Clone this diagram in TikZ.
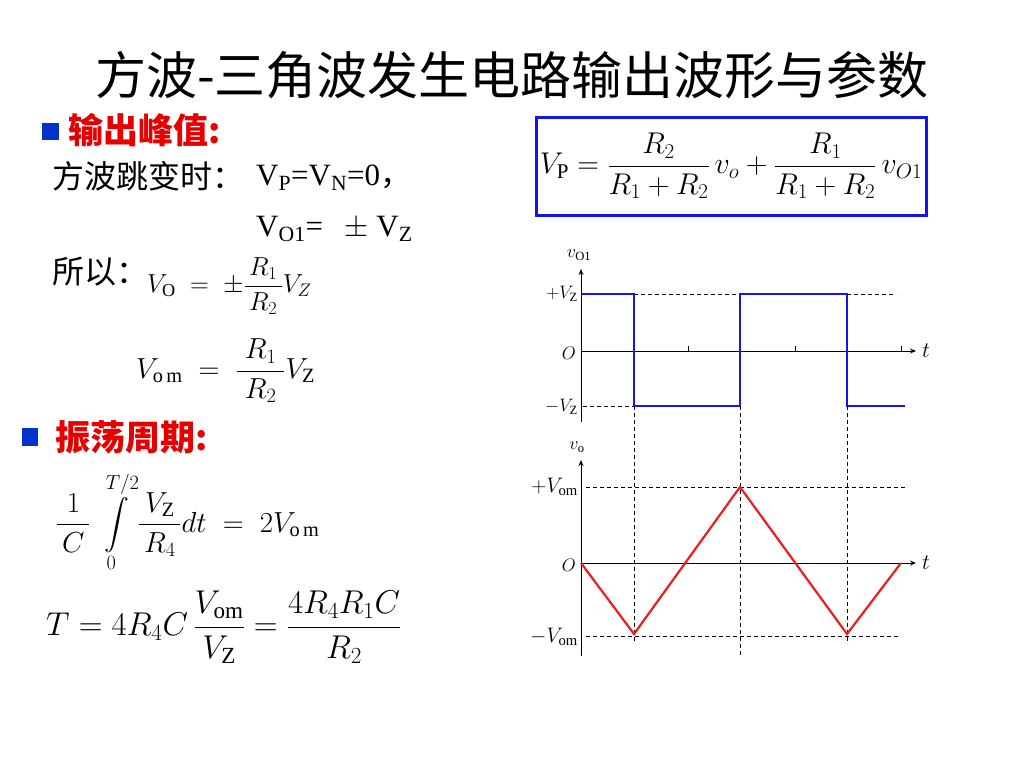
\RequirePackage{fix-cm}
\documentclass[tikz,border=0pt]{standalone}
\usepackage{amsmath}
\usepackage{fontspec}
\setmainfont{Liberation Serif}
\newfontfamily\cjk{Noto Sans CJK SC}
\usetikzlibrary{arrows.meta}
\definecolor{hdred}{RGB}{230,0,0}
\definecolor{bulblue}{RGB}{0,51,204}
\definecolor{sqblue}{RGB}{20,20,240}
\definecolor{trired}{RGB}{235,30,30}
\tikzset{
  txt/.style={inner sep=0pt, anchor=west},
  axis/.style={line width=0.9pt, -{Stealth[length=6pt,width=5pt]}},
  guide/.style={line width=0.8pt, dash pattern=on 4pt off 3pt},
  lbl/.style={inner sep=0pt, font=\fontsize{18}{20}\selectfont},
  biglbl/.style={inner sep=0pt, font=\fontsize{21}{23}\selectfont},
  tlbl/.style={inner sep=0pt, anchor=west, font=\fontsize{22}{24}\selectfont},
  sqw/.style={sqblue, line width=2.8pt},
  triw/.style={trired, line width=2.2pt, line join=miter},
  bullet/.style={fill=bulblue, draw=none},
}
\begin{document}
\begin{tikzpicture}[x=1pt,y=-1pt]
\useasboundingbox[fill=white] (0,0) rectangle (1024,768);

% title
\node[inner sep=0pt, font=\cjk\fontsize{51}{56}\selectfont] (title) at (512,75) {方波-三角波发生电路输出波形与参数};

% section 1
\fill[bullet] (42,123) rectangle (59,140);
\node[txt, text=hdred, font=\cjk\bfseries\fontsize{35}{40}\selectfont] (h1) at (68,130) {输出峰值:};
\node[txt, font=\cjk\fontsize{32}{36}\selectfont] (l1) at (52,176) {方波跳变时：};
\node[txt, font=\fontsize{31}{34}\selectfont] (l1b) at (256,178) {V\textsubscript{P}=V\textsubscript{N}=0{\cjk ，}};
\node[txt, font=\fontsize{31}{34}\selectfont] (l2) at (256,229) {V\textsubscript{O1}=\;\, $\pm$ V\textsubscript{Z}};
\node[txt, font=\cjk\fontsize{32}{36}\selectfont] (l3) at (52,272) {所以：};
\node[txt, font=\fontsize{26}{29}\selectfont] (f1) at (147,286) {$V_{\mathrm{O}}\;=\;\pm\dfrac{\,R_1\,}{\,R_2\,}V_Z$};
\node[txt, font=\fontsize{29}{32}\selectfont] (f2) at (136,371) {$V_{\mathrm{o\,m}}\;=\;\dfrac{\;R_1\;}{\;R_2\;}V_{\mathrm{Z}}$};

% section 2
\fill[bullet] (22,428) rectangle (38,446);
\node[txt, text=hdred, font=\cjk\bfseries\fontsize{35}{40}\selectfont] (h2) at (55,437) {振荡周期:};
\node[txt, font=\fontsize{29}{32}\selectfont] (f3) at (56,522) {$\dfrac{\,1\,}{\,C\,}\,\displaystyle\int\limits_{0}^{T/2}\dfrac{\,V_{\mathrm{Z}}\,}{\,R_4\,}dt \;=\; 2V_{\mathrm{o\,m}}$};
\node[txt, font=\fontsize{33}{37}\selectfont] (f4) at (46,627) {$T = 4R_4C\,\dfrac{V_{\mathrm{om}}}{V_{\mathrm{Z}}} = \dfrac{4R_4R_1C}{R_2}$};

% boxed formula
\draw[sqblue, line width=3pt] (536,117) rectangle (926,215);
\node[inner sep=0pt, font=\fontsize{30}{34}\selectfont] (f5) at (731,166) {$V_{\mathrm{P}} = \dfrac{R_2}{R_1+R_2}\,v_o + \dfrac{R_1}{R_1+R_2}\,v_{O1}$};

% ---------- top graph (square wave) ----------
\coordinate (o1) at (581,351);
\coordinate (y1b) at (581,422);
\coordinate (y1t) at (581,269);
\coordinate (x1e) at (916,351);
\draw[axis] (y1b) -- (y1t);
\draw[axis] (o1) -- (x1e);
\node[lbl] (v1) at (579,255) {$v_{\mathrm{O1}}$};
\node[tlbl] (t1) at (922,351) {$t$};
\node[lbl, anchor=east] (pz) at (578,294) {$+V_{\mathrm{Z}}$};
\node[lbl, anchor=east] (oz) at (576,353) {$O$};
\node[lbl, anchor=east] (mz) at (578,407) {$-V_{\mathrm{Z}}$};
\foreach \x in {688,795,901} \draw[line width=0.8pt] (\x,351) -- (\x,346);
\draw[guide] (634,294) -- (740,294);
\draw[guide] (847,294) -- (896,294);
\draw[guide] (583,406) -- (634,406);
\draw[sqw] (581,294) -- (634,294) -- (634,406) -- (740,406) -- (740,294) -- (847,294) -- (847,406) -- (905,406);

% vertical guides
\draw[guide] (634,406) -- (634,644);
\draw[guide] (740,406) -- (740,655);
\draw[guide] (847,406) -- (847,644);

% ---------- bottom graph (triangle wave) ----------
\coordinate (o2) at (581,563);
\coordinate (y2b) at (581,656);
\coordinate (y2t) at (581,460);
\coordinate (x2e) at (916,563);
\draw[axis] (y2b) -- (y2t);
\draw[axis] (o2) -- (x2e);
\node[lbl] (v2) at (577,447) {$v_{\mathrm{o}}$};
\node[tlbl] (t2) at (922,563) {$t$};
\node[biglbl, anchor=east] (pv) at (578,487) {$+V_{\mathrm{om}}$};
\node[lbl, anchor=east] (ov) at (576,565) {$O$};
\node[biglbl, anchor=east] (mv) at (578,637) {$-V_{\mathrm{om}}$};
\draw[guide] (586,487) -- (906,487);
\draw[guide] (586,636) -- (898,636);
\draw[triw] (581,563) -- (634,634) -- (740,487) -- (847,634) -- (901,563);
\end{tikzpicture}
\end{document}
